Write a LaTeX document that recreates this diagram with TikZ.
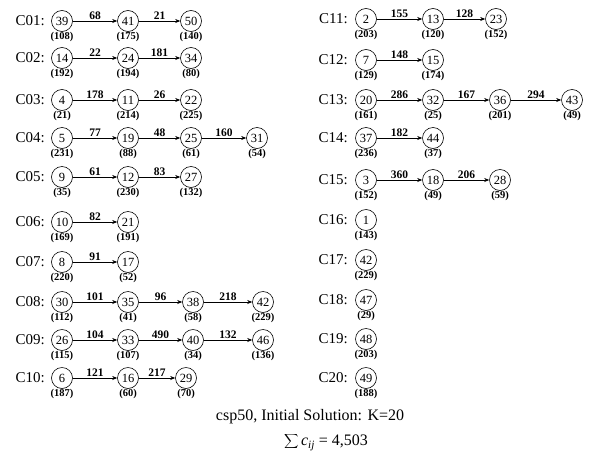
\documentclass[tikz,border=0pt]{standalone}
\usepackage{fontspec}
\setmainfont{Liberation Serif}
\usetikzlibrary{arrows.meta}
\tikzset{
  cn/.style={circle, draw, line width=0.6pt, minimum size=21pt, inner sep=0pt, font=\fontsize{12.5}{12.5}\selectfont},
  rl/.style={anchor=east, inner sep=0pt, font=\fontsize{15}{15}\selectfont},
  wl/.style={inner sep=0pt, font=\bfseries\fontsize{10.5}{10.5}\selectfont},
  el/.style={above, inner sep=1.5pt, font=\bfseries\fontsize{11.5}{11.5}\selectfont},
  arr/.style={-{Stealth[length=5pt,width=4pt]}, line width=0.6pt},
}
\newcommand{\mkcust}[4]{\node[cn] (n#1) at (#2,#3) {#1}; \node[wl] (w#1) at (#2,#3+16) {(#4)};}
\newcommand{\mkedge}[3]{\draw[arr] (n#1) -- node[el]{#3} (n#2);}
\newcommand{\mkrow}[3]{\node[rl] (r#1) at (#2,#3) {C#1:};}
\begin{document}
\begin{tikzpicture}[x=1pt,y=-1pt]
\useasboundingbox (0,0) rectangle (591,458);
% left column
\mkrow{01}{45}{21}
\mkcust{39}{62}{21}{108}\mkcust{41}{128}{21}{175}\mkcust{50}{191}{21}{140}
\mkedge{39}{41}{68}\mkedge{41}{50}{21}
\mkrow{02}{45}{58}
\mkcust{14}{62}{58}{192}\mkcust{24}{128}{58}{194}\mkcust{34}{191}{58}{80}
\mkedge{14}{24}{22}\mkedge{24}{34}{181}
\mkrow{03}{45}{100}
\mkcust{4}{62}{100}{21}\mkcust{11}{128}{100}{214}\mkcust{22}{191}{100}{225}
\mkedge{4}{11}{178}\mkedge{11}{22}{26}
\mkrow{04}{45}{138}
\mkcust{5}{62}{138}{231}\mkcust{19}{128}{138}{88}\mkcust{25}{191}{138}{61}\mkcust{31}{257}{138}{54}
\mkedge{5}{19}{77}\mkedge{19}{25}{48}\mkedge{25}{31}{160}
\mkrow{05}{45}{177}
\mkcust{9}{62}{177}{35}\mkcust{12}{128}{177}{230}\mkcust{27}{191}{177}{132}
\mkedge{9}{12}{61}\mkedge{12}{27}{83}
\mkrow{06}{45}{222}
\mkcust{10}{62}{222}{169}\mkcust{21}{128}{222}{191}
\mkedge{10}{21}{82}
\mkrow{07}{45}{262}
\mkcust{8}{62}{262}{220}\mkcust{17}{128}{262}{52}
\mkedge{8}{17}{91}
\mkrow{08}{45}{302}
\mkcust{30}{62}{302}{112}\mkcust{35}{128}{302}{41}\mkcust{38}{193}{302}{58}\mkcust{42}{263}{302}{229}
\mkedge{30}{35}{101}\mkedge{35}{38}{96}\mkedge{38}{42}{218}
\mkrow{09}{45}{340}
\mkcust{26}{62}{340}{115}\mkcust{33}{128}{340}{107}\mkcust{40}{193}{340}{34}\mkcust{46}{263}{340}{136}
\mkedge{26}{33}{104}\mkedge{33}{40}{490}\mkedge{40}{46}{132}
\mkrow{10}{45}{378}
\mkcust{6}{62}{378}{187}\mkcust{16}{128}{378}{60}\mkcust{29}{186}{378}{70}
\mkedge{6}{16}{121}\mkedge{16}{29}{217}
% right column
\mkrow{11}{348}{19}
\mkcust{2}{366}{19}{203}\mkcust{13}{433}{19}{120}\mkcust{23}{496}{19}{152}
\mkedge{2}{13}{155}\mkedge{13}{23}{128}
\mkrow{12}{348}{60}
\mkcust{7}{366}{60}{129}\mkcust{15}{433}{60}{174}
\mkedge{7}{15}{148}
\mkrow{13}{348}{100}
\mkcust{20}{366}{100}{161}\mkcust{32}{433}{100}{25}\mkcust{36}{500}{100}{201}\mkcust{43}{572}{100}{49}
\mkedge{20}{32}{286}\mkedge{32}{36}{167}\mkedge{36}{43}{294}
\mkrow{14}{348}{138}
\mkcust{37}{366}{138}{236}\mkcust{44}{433}{138}{37}
\mkedge{37}{44}{182}
\mkrow{15}{348}{180}
\mkcust{3}{366}{180}{152}\mkcust{18}{433}{180}{49}\mkcust{28}{500}{180}{59}
\mkedge{3}{18}{360}\mkedge{18}{28}{206}
\mkrow{16}{348}{220}
\mkcust{1}{366}{220}{143}
\mkrow{17}{348}{260}
\node[cn] (n42b) at (366,260) {42}; \node[wl] (w42b) at (366,276) {(229)};
\mkrow{18}{348}{300}
\mkcust{47}{366}{300}{29}
\mkrow{19}{348}{339}
\mkcust{48}{366}{339}{203}
\mkrow{20}{348}{378}
\mkcust{49}{366}{378}{188}
% caption
\node[inner sep=0pt, font=\fontsize{16}{16}\selectfont] (cap) at (310,417) {csp50, Initial Solution: K=20};
\node[inner sep=0pt, font=\fontsize{16}{16}\selectfont] (sum) at (326,442) {$\displaystyle\sum$\,\textit{c}\textsubscript{\textit{ij}} = 4,503};
\end{tikzpicture}
\end{document}
